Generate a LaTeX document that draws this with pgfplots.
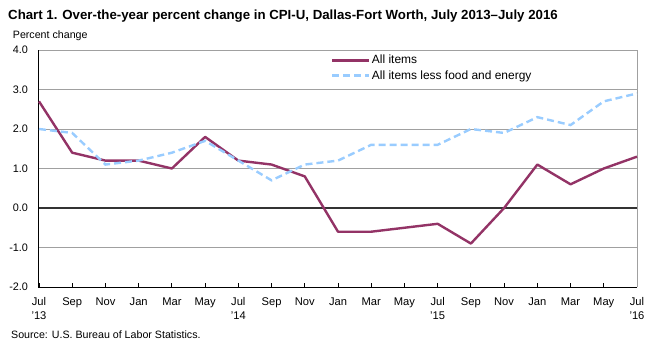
\documentclass[border=0pt]{standalone}
\usepackage{pgfplots}
\pgfplotsset{compat=1.18}
\usepackage{fontspec}
\setmainfont{Liberation Sans}
\definecolor{cpipurple}{HTML}{933366}
\definecolor{cpiblue}{HTML}{99CCFF}
\definecolor{gridgray}{HTML}{A0A0A0}
\begin{document}
\begin{tikzpicture}[x=1bp,y=1bp]
\begin{axis}[
  at={(0,0)}, anchor=south west,
  scale only axis, width=598bp, height=237bp,
  xmin=0, xmax=18, ymin=-2, ymax=4,
  axis line style={draw=none},
  xtick={0,...,18},
  xticklabels={{Jul\\'13},Sep,Nov,Jan,Mar,May,{Jul\\'14},Sep,Nov,Jan,Mar,May,{Jul\\'15},Sep,Nov,Jan,Mar,May,{Jul\\'16}},
  xticklabel style={align=center, font=\fontsize{11.2}{14}\selectfont, anchor=north, yshift=-7bp},
  ytick={-2,-1,0,1,2,3,4},
  yticklabels={-2.0,-1.0,0.0,1.0,2.0,3.0,4.0},
  yticklabel style={font=\fontsize{10.9}{12}\selectfont, xshift=-7.5bp},
  /pgf/number format/assume math mode=true,
  major tick length=4bp,
  tick align=inside,
  xtick pos=bottom, ytick pos=left,
  ytick style={draw=none},
  xtick style={black, line width=0.8bp},
  ymajorgrids, grid style={gridgray, line width=0.8bp},
  clip=false,
  legend style={draw=none, fill=none, at={(0.488,0.985)}, anchor=north west,
    font=\fontsize{12}{14}\selectfont, row sep=2bp, inner sep=0pt, nodes={inner sep=1.5bp}},
  legend cell align=left,
  legend image code/.code={\draw[#1] (0bp,0bp) -- (37bp,0bp);},
]
\draw[gridgray, line width=0.8bp] (rel axis cs:0,1) -- (rel axis cs:1,1) -- (rel axis cs:1,0);
\draw[black!80, line width=1.5bp] (axis cs:0,0) -- (axis cs:18,0);
\draw[black, line width=1bp] (rel axis cs:0,1) -- (rel axis cs:0,0) -- (rel axis cs:1,0);
\addplot[cpipurple, line width=2.4bp, line join=round] coordinates {
(0,2.7)(1,1.4)(2,1.2)(3,1.2)(4,1.0)(5,1.8)(6,1.2)(7,1.1)(8,0.8)(9,-0.6)(10,-0.6)(11,-0.5)(12,-0.4)(13,-0.9)(14,0.0)(15,1.1)(16,0.6)(17,1.0)(18,1.3)};
\addlegendentry{All items}
\addplot[cpiblue, line width=2.4bp, dash pattern=on 7bp off 4bp] coordinates {
(0,2.0)(1,1.9)(2,1.1)(3,1.2)(4,1.4)(5,1.7)(6,1.2)(7,0.7)(8,1.1)(9,1.2)(10,1.6)(11,1.6)(12,1.6)(13,2.0)(14,1.9)(15,2.3)(16,2.1)(17,2.7)(18,2.9)};
\addlegendentry{All items less food and energy}
\end{axis}
\node[anchor=base west, font=\bfseries\fontsize{13.3}{15}\selectfont, inner sep=0pt] at (-31bp,267bp) {Chart 1. Over-the-year percent change in CPI-U, Dallas-Fort Worth, July 2013–July 2016};
\node[anchor=base west, font=\fontsize{10.7}{12}\selectfont, inner sep=0pt] at (-26.3bp,248bp) {Percent change};
\node[anchor=base west, font=\fontsize{10.7}{12}\selectfont, inner sep=0pt] at (-28bp,-51bp) {Source: U.S. Bureau of Labor Statistics.};
\pgfresetboundingbox
\useasboundingbox (-39bp,-59bp) rectangle (615bp,287bp);
\end{tikzpicture}
\end{document}
